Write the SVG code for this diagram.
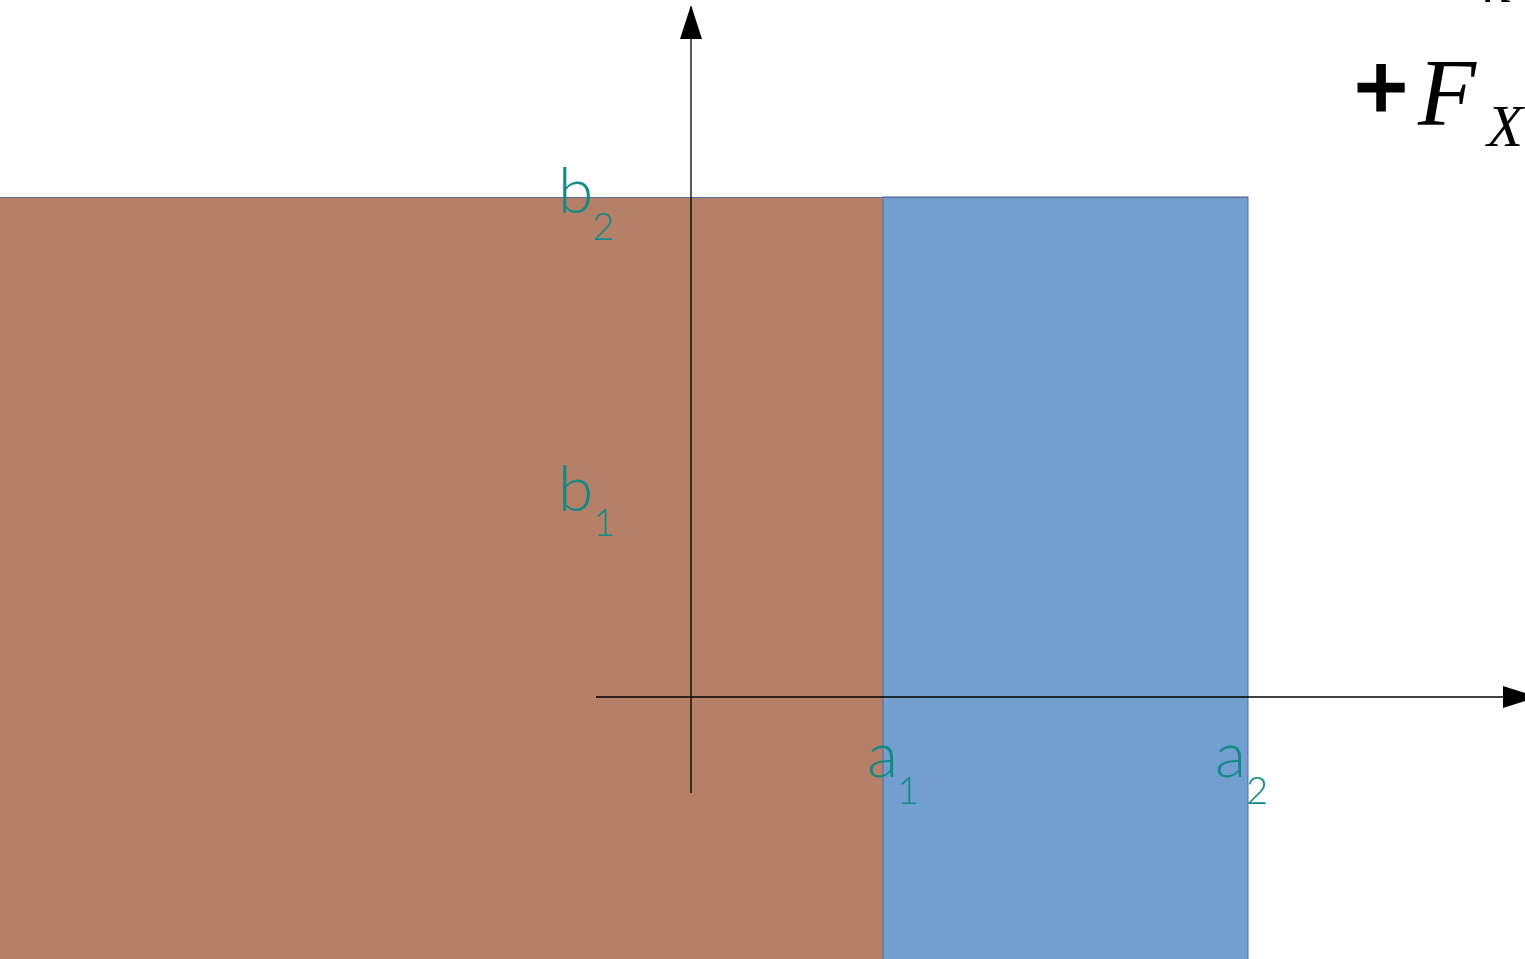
<svg xmlns="http://www.w3.org/2000/svg" width="1525" height="959" viewBox="0 0 1525 959">
<style>
.lbl{font-family:Lato,"Noto Sans",sans-serif;font-weight:300;fill:#138A85}
.big{font-size:64px}
.sub{font-size:38px}
.ax{stroke:#000;stroke-width:1.3;fill:none}
.math{font-family:"Liberation Serif",serif;fill:#000}
</style>
<defs>
<marker id="arr" markerWidth="34" markerHeight="22" refX="32" refY="11" orient="auto" markerUnits="userSpaceOnUse">
<path d="M0,0 L34,11 L0,22 Z" fill="#000"/>
</marker>
</defs>
<rect width="1525" height="959" fill="#fff"/>
<g id="region-left">
<rect x="0" y="197" width="883" height="770" fill="#B57F68"/>
</g>
<g id="region-right">
<rect x="883" y="197" width="365" height="770" fill="#729FCF" stroke="#4A70AA" stroke-width="1"/>
</g>
<line x1="0" y1="197.5" x2="1248" y2="197.5" stroke="#5A6E9A" stroke-width="1.2"/>
<g id="connectors">
<line class="ax" x1="691" y1="793" x2="691" y2="7" marker-end="url(#arr)"/>
<line class="ax" x1="596" y1="697" x2="1535" y2="697" marker-end="url(#arr)"/>
</g>
<g id="labels">
<text class="lbl big" x="558" y="213">b</text><text class="lbl sub" x="592" y="240">2</text>
<text class="lbl big" x="558" y="511">b</text><text class="lbl sub" x="593" y="536">1</text>
<text class="lbl big" x="867" y="777">a</text><text class="lbl sub" x="897" y="804">1</text>
<text class="lbl big" x="1215" y="777">a</text><text class="lbl sub" x="1246" y="804">2</text>
</g>
<g id="force">
<text class="math" x="1354" y="119" font-size="95" font-weight="bold" stroke="#000" stroke-width="3">+</text>
<text class="math" x="1418" y="125" font-size="95" font-style="italic">F</text>
<text class="math" x="1487" y="146" font-size="59" font-style="italic">X</text>
<text class="math" x="1483" y="2" font-size="59" font-style="italic">n</text>
</g>
</svg>
